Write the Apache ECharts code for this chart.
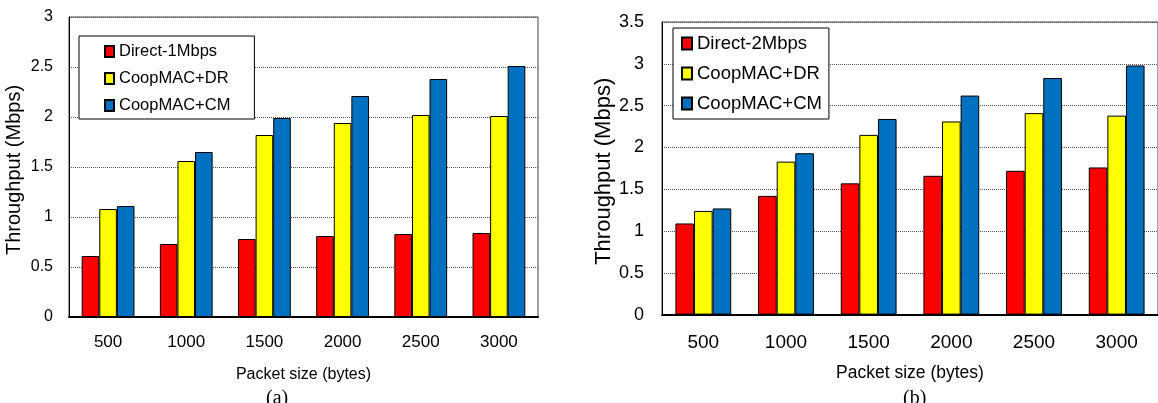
<!DOCTYPE html>
<html>
<head>
<meta charset="utf-8">
<script src="https://cdn.jsdelivr.net/npm/echarts@6/dist/echarts.min.js"></script>
<style>
html,body{margin:0;padding:0;background:#fff;}
#c{width:1158px;height:403px;}
</style>
</head>
<body>
<div id="c"></div>
<script>
const categories = ['500', '1000', '1500', '2000', '2500', '3000'];
// Chart (a)
const directA = [0.61, 0.73, 0.78, 0.81, 0.83, 0.84];
const coopDrA = [1.08, 1.56, 1.82, 1.94, 2.02, 2.01];
const coopCmA = [1.11, 1.65, 1.99, 2.21, 2.38, 2.51];
// Chart (b)
const directB = [1.09, 1.42, 1.57, 1.66, 1.72, 1.76];
const coopDrB = [1.24, 1.83, 2.15, 2.31, 2.41, 2.38];
const coopCmB = [1.27, 1.93, 2.34, 2.62, 2.83, 2.98];

const FONT = '"Liberation Sans", Arial, sans-serif';
const RED = '#FF0000', YEL = '#FFFF00', BLU = '#0070C0';

function xAxis(gi, fs, margin, nfs) {
  return {
    type: 'category', gridIndex: gi, data: categories, boundaryGap: true,
    axisLine: {show: true, lineStyle: {color: '#000', width: 2}},
    axisTick: {show: false},
    axisLabel: {color: '#000', fontFamily: FONT, fontSize: fs, margin: margin},
    name: 'Packet size (bytes)', nameLocation: 'middle', nameGap: 50,
    nameTextStyle: {color: '#000', fontFamily: FONT, fontSize: nfs}
  };
}
function yAxis(gi, max, fs, margin, nfs, gap) {
  return {
    type: 'value', gridIndex: gi, min: 0, max: max, interval: 0.5,
    axisLine: {show: true, lineStyle: {color: '#000', width: 1}},
    axisTick: {show: false},
    axisLabel: {color: '#000', fontFamily: FONT, fontSize: fs, margin: margin},
    splitLine: {show: true, lineStyle: {color: '#555', type: 'dotted', width: 1}},
    name: 'Throughput (Mbps)', nameLocation: 'middle', nameGap: gap, nameRotate: 90,
    nameTextStyle: {color: '#000', fontFamily: FONT, fontSize: nfs, padding: [0, 6, 0, 0]}
  };
}
function bar(name, data, color, gi) {
  return {
    type: 'bar', name: name, data: data, xAxisIndex: gi, yAxisIndex: gi,
    barWidth: '22.5%', barGap: '0%',
    itemStyle: {color: color, borderColor: '#000', borderWidth: 1},
    emphasis: {disabled: true}, animation: false
  };
}

const chart = echarts.init(document.getElementById('c'));
chart.setOption({
  backgroundColor: '#fff',
  animation: false,
  grid: [
    {left: 69, top: 17, right: 620, bottom: 86, show: true, borderColor: '#444', borderWidth: 1, backgroundColor: 'transparent'},
    {left: 662, top: 22, right: -11, bottom: 88.4, show: true, borderColor: '#444', borderWidth: 1, backgroundColor: 'transparent'}
  ],
  xAxis: [xAxis(0, 17, 17, 16), xAxis(1, 19, 19, 17.5)],
  yAxis: [yAxis(0, 3, 16, 16, 20, 45), yAxis(1, 3.5, 18, 18, 22, 47)],
  legend: [
    {
      data: ['Direct-1Mbps', 'CoopMAC+DR', 'CoopMAC+CM'],
      orient: 'vertical', left: 79, top: 36, itemGap: 10,
      itemWidth: 9, itemHeight: 11, icon: 'rect',
      padding: [7, 24, 5, 25], borderColor: '#000', borderWidth: 1, backgroundColor: '#fff',
      textStyle: {color: '#000', fontFamily: FONT, fontSize: 16.5},
      selectedMode: false
    },
    {
      data: ['Direct-2Mbps', 'CoopMAC+DR', 'CoopMAC+CM'],
      orient: 'vertical', left: 673, top: 28, itemGap: 11,
      itemWidth: 10, itemHeight: 12, icon: 'rect',
      padding: [6, 7, 6, 8], borderColor: '#000', borderWidth: 1, backgroundColor: '#fff',
      textStyle: {color: '#000', fontFamily: FONT, fontSize: 18.5},
      selectedMode: false
    }
  ],
  series: [
    bar('Direct-1Mbps', directA, RED, 0),
    bar('CoopMAC+DR', coopDrA, YEL, 0),
    bar('CoopMAC+CM', coopCmA, BLU, 0),
    bar('Direct-2Mbps', directB, RED, 1),
    bar('CoopMAC+DR', coopDrB, YEL, 1),
    bar('CoopMAC+CM', coopCmB, BLU, 1)
  ],
  graphic: [
    {type: 'text', left: 266, top: 389, style: {text: '(a)', fill: '#000', font: '20px "Liberation Serif", "Times New Roman", serif'}},
    {type: 'text', left: 903, top: 389, style: {text: '(b)', fill: '#000', font: '20px "Liberation Serif", "Times New Roman", serif'}}
  ]
});
</script>
</body>
</html>
